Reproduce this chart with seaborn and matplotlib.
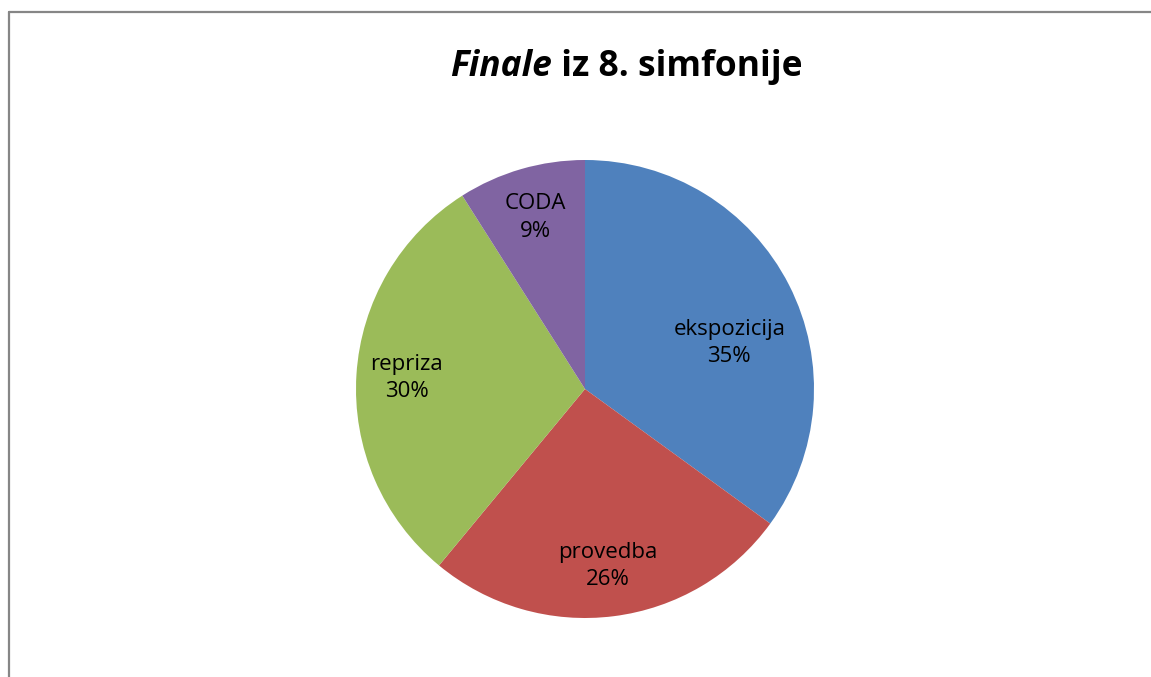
import matplotlib
matplotlib.use("Agg")
import matplotlib.pyplot as plt
import seaborn as sns

# dijelovi stavka
dijelovi = ["ekspozicija", "provedba", "repriza", "CODA"]
udjeli = [35, 26, 30, 9]
boje = ["#4F81BD", "#C0504D", "#9BBB59", "#8064A2"]

sns.set_theme(style="white")
plt.rcParams['font.family'] = ['Open Sans', 'DejaVu Sans']

W, H = 1151, 677
fig = plt.figure(figsize=(W / 100, H / 100), dpi=100)

# pie area: centre (585, 389) px, radius 229 px
cx, cy, r = 585, 389, 229
ax = fig.add_axes([(cx - r) / W, (H - cy - r) / H, 2 * r / W, 2 * r / H])

pal = sns.color_palette(boje)
wedges, texts = ax.pie(udjeli, colors=pal, startangle=90, counterclock=False,
                       radius=1, labels=[f"{d}\n{u}%" for d, u in zip(dijelovi, udjeli)],
                       labeldistance=0.78,
                       textprops=dict(fontsize=16, color="black", ha="center",
                                      va="center", linespacing=1.4),
                       wedgeprops=dict(linewidth=0))
for w in wedges:
    w.set_clip_on(False)
# Excel "best fit" placement is a bit flatter for the first slice
texts[0].set_position((0.63, 0.20))
ax.set_xlim(-1, 1)
ax.set_ylim(-1, 1)
ax.set_aspect("equal")
ax.axis("off")

# title: Finale (bold italic) + rest (bold)
ty = 1 - 76 / H
t1 = fig.text(0.5, ty, "Finale", fontsize=25.5, fontweight="bold",
              fontstyle="italic", ha="left", va="baseline", color="black")
t2 = fig.text(0.5, ty, " iz 8. simfonije", fontsize=25.5, fontweight="bold",
              ha="left", va="baseline", color="black")
fig.canvas.draw()
rend = fig.canvas.get_renderer()
w1 = t1.get_window_extent(rend).width
w2 = t2.get_window_extent(rend).width
start = 626 - (w1 + w2) / 2
t1.set_x(start / W)
t2.set_x((start + w1) / W)

# chart border (only top and left visible in the crop)
fig.add_artist(plt.Line2D([8.5 / W, 8.5 / W], [0, 1 - 11.5 / H], transform=fig.transFigure,
                          color="#868686", linewidth=1.6))
fig.add_artist(plt.Line2D([8.5 / W, 1], [1 - 11.5 / H, 1 - 11.5 / H], transform=fig.transFigure,
                          color="#868686", linewidth=1.6))

fig.savefig("out.png", dpi=100, facecolor="white")
